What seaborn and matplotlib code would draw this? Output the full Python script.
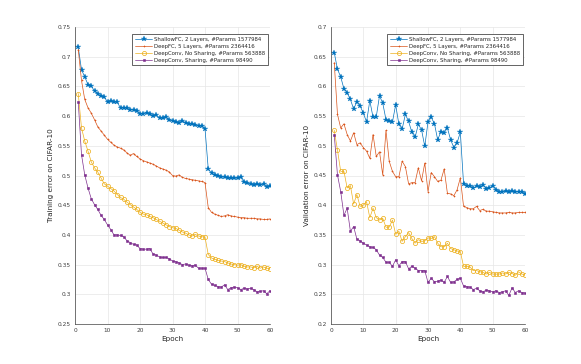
import numpy as np
import pandas as pd
import matplotlib
matplotlib.use("Agg")
import matplotlib.pyplot as plt
import seaborn as sns

epochs = list(range(1, 61))

labels = [
    "ShallowFC, 2 Layers, #Params 1577984",
    "DeepFC, 5 Layers, #Params 2364416",
    "DeepConv, No Sharing, #Params 563888",
    "DeepConv, Sharing, #Params 98490",
]

train_shallow = [0.716, 0.678, 0.666, 0.653, 0.651, 0.642, 0.638, 0.633, 0.632, 0.624,
                 0.625, 0.624, 0.623, 0.614, 0.614, 0.613, 0.611, 0.610, 0.609, 0.604,
                 0.604, 0.606, 0.603, 0.601, 0.602, 0.597, 0.596, 0.598, 0.594, 0.592,
                 0.590, 0.589, 0.592, 0.589, 0.587, 0.586, 0.585, 0.584, 0.583, 0.579,
                 0.511, 0.504, 0.501, 0.500, 0.498, 0.497, 0.496, 0.495, 0.495, 0.496,
                 0.497, 0.489, 0.487, 0.485, 0.484, 0.485, 0.484, 0.486, 0.480, 0.482]
train_deepfc = [0.712, 0.660, 0.628, 0.614, 0.605, 0.594, 0.582, 0.575, 0.568, 0.561,
                0.556, 0.551, 0.548, 0.546, 0.543, 0.538, 0.534, 0.537, 0.532, 0.528,
                0.525, 0.523, 0.521, 0.519, 0.516, 0.513, 0.511, 0.509, 0.506, 0.500,
                0.499, 0.501, 0.497, 0.495, 0.494, 0.493, 0.492, 0.491, 0.490, 0.488,
                0.446, 0.438, 0.435, 0.433, 0.431, 0.432, 0.434, 0.432, 0.431, 0.430,
                0.429, 0.429, 0.428, 0.428, 0.428, 0.427, 0.427, 0.426, 0.426, 0.427]
train_nosharing = [0.638, 0.580, 0.558, 0.541, 0.523, 0.513, 0.506, 0.496, 0.486, 0.482,
                   0.478, 0.474, 0.468, 0.463, 0.460, 0.455, 0.451, 0.447, 0.443, 0.438,
                   0.435, 0.434, 0.431, 0.429, 0.426, 0.423, 0.420, 0.417, 0.414, 0.412,
                   0.411, 0.408, 0.405, 0.403, 0.400, 0.398, 0.401, 0.398, 0.397, 0.396,
                   0.367, 0.361, 0.359, 0.357, 0.356, 0.355, 0.353, 0.351, 0.350, 0.349,
                   0.350, 0.347, 0.346, 0.346, 0.345, 0.347, 0.344, 0.346, 0.344, 0.343]
train_sharing = [0.624, 0.535, 0.501, 0.479, 0.461, 0.451, 0.443, 0.433, 0.426, 0.417,
                 0.409, 0.400, 0.400, 0.399, 0.397, 0.390, 0.387, 0.384, 0.383, 0.377,
                 0.376, 0.376, 0.377, 0.368, 0.366, 0.363, 0.362, 0.362, 0.360, 0.356,
                 0.355, 0.353, 0.350, 0.351, 0.349, 0.348, 0.349, 0.344, 0.344, 0.344,
                 0.325, 0.317, 0.315, 0.313, 0.312, 0.316, 0.308, 0.311, 0.312, 0.311,
                 0.308, 0.310, 0.309, 0.310, 0.308, 0.304, 0.305, 0.306, 0.301, 0.306]

val_shallow = [0.657, 0.629, 0.616, 0.596, 0.589, 0.578, 0.562, 0.574, 0.567, 0.555,
               0.540, 0.576, 0.548, 0.549, 0.584, 0.572, 0.544, 0.541, 0.540, 0.569,
               0.536, 0.528, 0.553, 0.541, 0.523, 0.514, 0.536, 0.527, 0.499, 0.540,
               0.548, 0.537, 0.510, 0.524, 0.522, 0.530, 0.510, 0.497, 0.505, 0.523,
               0.436, 0.433, 0.432, 0.429, 0.432, 0.430, 0.434, 0.428, 0.429, 0.433,
               0.426, 0.423, 0.422, 0.424, 0.423, 0.424, 0.422, 0.423, 0.423, 0.419]
val_deepfc = [0.640, 0.553, 0.530, 0.537, 0.519, 0.508, 0.522, 0.502, 0.505, 0.497,
              0.491, 0.479, 0.519, 0.482, 0.490, 0.451, 0.526, 0.474, 0.457, 0.448,
              0.448, 0.474, 0.465, 0.436, 0.438, 0.438, 0.463, 0.441, 0.471, 0.423,
              0.455, 0.448, 0.440, 0.442, 0.461, 0.420, 0.419, 0.416, 0.426, 0.446,
              0.398, 0.396, 0.394, 0.394, 0.398, 0.391, 0.393, 0.390, 0.390, 0.389,
              0.388, 0.387, 0.387, 0.387, 0.388, 0.387, 0.387, 0.388, 0.388, 0.388]
val_nosharing = [0.526, 0.493, 0.457, 0.457, 0.429, 0.433, 0.402, 0.418, 0.398, 0.400,
                 0.406, 0.379, 0.395, 0.379, 0.375, 0.378, 0.363, 0.363, 0.375, 0.351,
                 0.356, 0.339, 0.347, 0.354, 0.344, 0.336, 0.342, 0.339, 0.340, 0.345,
                 0.344, 0.347, 0.336, 0.330, 0.330, 0.336, 0.327, 0.325, 0.323, 0.322,
                 0.297, 0.297, 0.296, 0.290, 0.290, 0.288, 0.287, 0.284, 0.287, 0.284,
                 0.284, 0.284, 0.286, 0.284, 0.287, 0.285, 0.282, 0.288, 0.284, 0.283]
val_sharing = [0.519, 0.451, 0.423, 0.383, 0.395, 0.356, 0.364, 0.343, 0.340, 0.336,
               0.333, 0.330, 0.329, 0.325, 0.316, 0.312, 0.304, 0.304, 0.297, 0.308,
               0.298, 0.305, 0.305, 0.293, 0.297, 0.294, 0.290, 0.290, 0.290, 0.270,
               0.277, 0.271, 0.272, 0.274, 0.270, 0.280, 0.270, 0.271, 0.275, 0.277,
               0.264, 0.263, 0.262, 0.258, 0.260, 0.256, 0.254, 0.257, 0.256, 0.254,
               0.256, 0.253, 0.254, 0.256, 0.248, 0.261, 0.253, 0.256, 0.253, 0.252]

xticks = [0, 10, 20, 30, 40, 50, 60]
train_yticks = [0.25, 0.3, 0.35, 0.4, 0.45, 0.5, 0.55, 0.6, 0.65, 0.7, 0.75]
val_yticks = [0.2, 0.25, 0.3, 0.35, 0.4, 0.45, 0.5, 0.55, 0.6, 0.65, 0.7]

sns.set_style("whitegrid")
plt.rcParams['font.family'] = ['DejaVu Sans']

colors = ["#0072BD", "#D95319", "#EDB120", "#7E2F8E"]
styles = [
    dict(marker="*", markersize=4.4, markerfacecolor="#0072BD", markeredgewidth=0.2),
    dict(marker="+", markersize=1.8, markeredgewidth=0.45),
    dict(marker="o", markersize=3.0, markerfacecolor="none", markeredgewidth=0.55),
    dict(marker="s", markersize=1.9, markerfacecolor="#7E2F8E", markeredgewidth=0.4),
]

fig = plt.figure(figsize=(5.81, 3.64), dpi=100)
ax1 = fig.add_axes([75 / 581, 40 / 364, 195 / 581, 297 / 364])
ax2 = fig.add_axes([331 / 581, 40 / 364, 194 / 581, 297 / 364])

def draw(ax, series, yticks, ylabel):
    for lab, vals, c, st in zip(labels, series, colors, styles):
        df = pd.DataFrame({"Epoch": epochs, "err": vals})
        sns.lineplot(data=df, x="Epoch", y="err", ax=ax, color=c, linewidth=0.5,
                     label=lab, markeredgecolor=c, **st)
    ax.set_xlim(0, 60)
    ax.set_ylim(yticks[0], yticks[-1])
    ax.set_xticks(xticks)
    ax.set_xticklabels([str(t) for t in xticks])
    ax.set_yticks(yticks)
    ax.set_yticklabels(["%g" % t for t in yticks])
    ax.tick_params(axis="both", labelsize=4.2, colors="#555555", direction="in",
                   length=2, width=0.5, pad=3, labelcolor="#404040")
    ax.grid(True, color="#e6e6e6", linewidth=0.5)
    for s in ["top", "right"]:
        ax.spines[s].set_visible(False)
    for s in ["left", "bottom"]:
        ax.spines[s].set_color("#404040")
        ax.spines[s].set_linewidth(0.5)
    ax.set_xlabel("Epoch", fontsize=5.2, color="#262626", labelpad=2)
    ax.set_ylabel(ylabel, fontsize=5.2, color="#262626", labelpad=3)
    leg = ax.legend(loc="upper right", bbox_to_anchor=(1.005, 0.985), fontsize=3.9,
                    frameon=True, fancybox=False, framealpha=1, edgecolor="#262626",
                    borderpad=0.5, labelspacing=0.35, handlelength=3.2,
                    handletextpad=0.4)
    leg.get_frame().set_linewidth(0.5)
    for t in leg.get_texts():
        t.set_color("#262626")

draw(ax1, [train_shallow, train_deepfc, train_nosharing, train_sharing],
     train_yticks, "Training error on CIFAR-10")
draw(ax2, [val_shallow, val_deepfc, val_nosharing, val_sharing],
     val_yticks, "Validation error on CIFAR-10")

fig.savefig("out.png", dpi=100, facecolor="white")
